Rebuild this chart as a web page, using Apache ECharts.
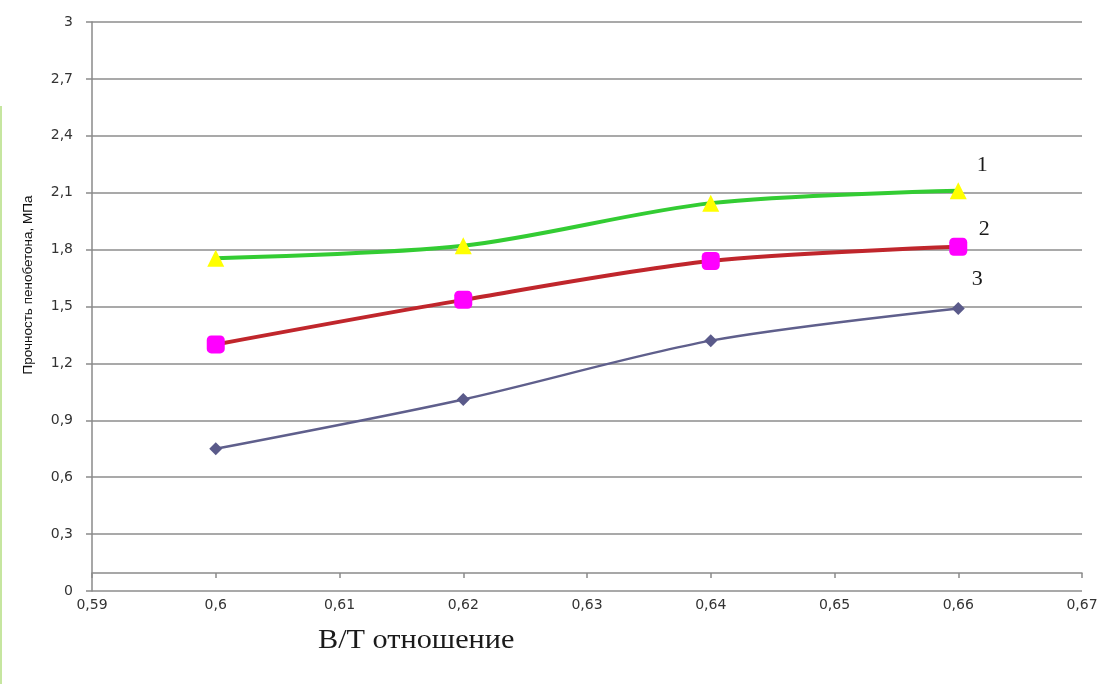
<!DOCTYPE html>
<html>
<head>
<meta charset="utf-8">
<script src="https://cdn.jsdelivr.net/npm/echarts@6/dist/echarts.min.js"></script>
<style>
  html, body { margin: 0; padding: 0; background: #ffffff; }
  #chart { width: 1115px; height: 684px; }
</style>
</head>
<body>
<div id="chart"></div>
<script>
// Water/solids ratio (x) and foam concrete strength, MPa (y)
const ratios = [0.60, 0.62, 0.64, 0.66];
const curve1 = [1.755, 1.82, 2.045, 2.11];
const curve2 = [1.30, 1.535, 1.74, 1.815];
const curve3 = [0.75, 1.01, 1.32, 1.49];
const curveNames = ['1', '2', '3'];

const xTickLabels = ['0,59', '0,6', '0,61', '0,62', '0,63', '0,64', '0,65', '0,66', '0,67'];
const yTickLabels = ['0', '0,3', '0,6', '0,9', '1,2', '1,5', '1,8', '2,1', '2,4', '2,7', '3'];

const xTitle = 'В/Т отношение';
const yTitle = 'Прочность пенобетона, МПа';

const X_MIN = 0.59, X_MAX = 0.67, X_STEP = 0.01;
const Y_MIN = 0, Y_MAX = 3, Y_STEP = 0.3;

function pairs(ys) { return ratios.map((x, i) => [x, ys[i]]); }

function withEndLabel(ys, name, offset) {
  const d = pairs(ys);
  const last = d.length - 1;
  d[last] = {
    value: d[last],
    label: {
      show: true, formatter: name, position: 'inside', offset: offset,
      fontFamily: 'Liberation Serif', fontSize: 22, color: '#1a1a1a'
    }
  };
  return d;
}

const chart = echarts.init(document.getElementById('chart'), null, { renderer: 'canvas' });

const tickFont = { fontFamily: 'DejaVu Sans', fontSize: 14, color: '#333333' };

chart.setOption({
  animation: false,
  backgroundColor: '#ffffff',
  grid: { left: 92, top: 22, right: 33, bottom: 93, containLabel: false },
  graphic: [
    { type: 'rect', left: 0, top: 106, shape: { width: 2, height: 578 }, style: { fill: '#c6e6a0' } },
    {
      type: 'text', x: 318, y: 627, scaleX: 1.12,
      style: { text: xTitle, font: '27px "Liberation Serif"', fill: '#1a1a1a' }
    },
    {
      type: 'text', x: 28, y: 285, rotation: Math.PI / 2,
      style: {
        text: yTitle, font: '13.5px "Liberation Sans"', fill: '#111111',
        align: 'center', verticalAlign: 'middle'
      }
    }
  ],
  xAxis: {
    type: 'value',
    min: X_MIN, max: X_MAX, interval: X_STEP,
    offset: -18,
    axisLine: { show: true, onZero: false, lineStyle: { color: '#8a8a8a', width: 1.5 } },
    axisTick: { show: true, inside: false, length: 5, lineStyle: { color: '#8a8a8a', width: 1.5 } },
    splitLine: { show: false },
    axisLabel: {
      margin: 25, ...tickFont,
      formatter: (v) => xTickLabels[Math.round((v - X_MIN) / X_STEP)] ?? ''
    }
  },
  yAxis: {
    type: 'value',
    min: Y_MIN, max: Y_MAX, interval: Y_STEP,
    axisLine: { show: true, lineStyle: { color: '#8a8a8a', width: 1.5 } },
    axisTick: { show: true, inside: false, length: 6, lineStyle: { color: '#8a8a8a', width: 1.5 } },
    splitLine: { show: true, lineStyle: { color: '#8c8c8c', width: 1.5 } },
    axisLabel: {
      margin: 19, ...tickFont,
      formatter: (v) => yTickLabels[Math.round((v - Y_MIN) / Y_STEP)] ?? ''
    }
  },
  series: [
    {
      name: curveNames[2], type: 'line', smooth: 0.3,
      data: withEndLabel(curve3, curveNames[2], [19, -29]),
      lineStyle: { color: '#5f5f8c', width: 2.5 },
      symbol: 'diamond', symbolSize: 13,
      itemStyle: { color: '#5a5a8a', borderWidth: 0 }
    },
    {
      name: curveNames[1], type: 'line', smooth: 0.3,
      data: withEndLabel(curve2, curveNames[1], [26, -18]),
      lineStyle: { color: '#c0262c', width: 4 },
      symbol: 'roundRect', symbolSize: 18,
      itemStyle: { color: '#ff00ff', borderWidth: 0 }
    },
    {
      name: curveNames[0], type: 'line', smooth: 0.3,
      data: withEndLabel(curve1, curveNames[0], [24, -26]),
      lineStyle: { color: '#33cc33', width: 4 },
      symbol: 'triangle', symbolSize: 17,
      itemStyle: { color: '#ffff00', borderWidth: 0 }
    }
  ]
});
</script>
</body>
</html>
